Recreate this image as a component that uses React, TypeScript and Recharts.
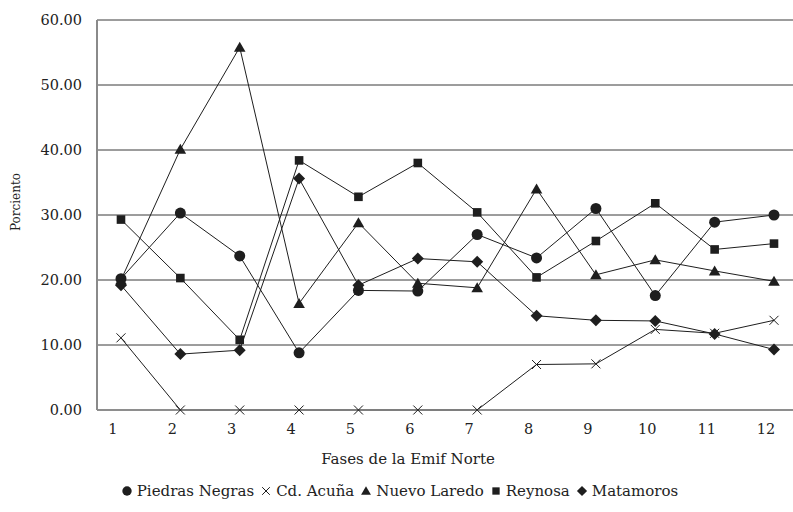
import React from 'react';
import { LineChart, Line, XAxis, YAxis, CartesianGrid } from 'recharts';

const phases = [1, 2, 3, 4, 5, 6, 7, 8, 9, 10, 11, 12];
const piedrasNegras = [20.2, 30.3, 23.7, 8.8, 18.4, 18.3, 27.0, 23.4, 31.0, 17.6, 28.9, 30.0];
const cdAcuna = [11.1, 0, 0, 0, 0, 0, 0, 7.0, 7.1, 12.4, 11.8, 13.8];
const nuevoLaredo = [20.0, 40.1, 55.8, 16.4, 28.8, 19.5, 18.8, 34.0, 20.8, 23.1, 21.4, 19.8];
const reynosa = [29.3, 20.3, 10.8, 38.4, 32.8, 38.0, 30.4, 20.4, 26.0, 31.8, 24.7, 25.6];
const matamoros = [19.2, 8.6, 9.2, 35.6, 19.2, 23.3, 22.8, 14.5, 13.8, 13.7, 11.7, 9.3];
const yTicks = [0, 10, 20, 30, 40, 50, 60];

const seriesDefs = [
  { key: 'pn', name: 'Piedras Negras', values: piedrasNegras, shape: 'circle' },
  { key: 'ca', name: 'Cd. Acuña', values: cdAcuna, shape: 'cross' },
  { key: 'nl', name: 'Nuevo Laredo', values: nuevoLaredo, shape: 'triangle' },
  { key: 're', name: 'Reynosa', values: reynosa, shape: 'square' },
  { key: 'ma', name: 'Matamoros', values: matamoros, shape: 'diamond' },
];

const data = phases.map((p, i) => {
  const row: any = { phase: p };
  seriesDefs.forEach((s) => {
    row[s.key] = s.values[i];
  });
  return row;
});

const INK = '#1e1e1e';
const FONT = '"DejaVu Serif", serif';

function Marker({ shape, cx, cy, size = 1 }: { shape: string; cx: number; cy: number; size?: number }) {
  if (cx == null || cy == null) return null;
  switch (shape) {
    case 'circle':
      return <circle cx={cx} cy={cy} r={5.5 * size} fill={INK} />;
    case 'cross': {
      const d = 4.5 * size;
      return (
        <g stroke={INK} strokeWidth={1}>
          <line x1={cx - d} y1={cy - d} x2={cx + d} y2={cy + d} />
          <line x1={cx - d} y1={cy + d} x2={cx + d} y2={cy - d} />
        </g>
      );
    }
    case 'triangle': {
      const w = 5.8 * size;
      const h = 10 * size;
      return <polygon points={`${cx},${cy - h * 0.55} ${cx + w},${cy + h * 0.45} ${cx - w},${cy + h * 0.45}`} fill={INK} />;
    }
    case 'square': {
      const s = 4.3 * size;
      return <rect x={cx - s} y={cy - s} width={2 * s} height={2 * s} fill={INK} />;
    }
    case 'diamond': {
      const d = 6 * size;
      return <polygon points={`${cx},${cy - d} ${cx + d},${cy} ${cx},${cy + d} ${cx - d},${cy}`} fill={INK} />;
    }
    default:
      return null;
  }
}

const XTick = (props: any) => {
  const { x, y, payload } = props;
  return (
    <text x={x - 8} y={y} dy="0.71em" textAnchor="middle" fontFamily={FONT} fontSize={14.5} fill="#222">
      {payload.value}
    </text>
  );
};

export default function App() {
  return (
    <div style={{ position: 'absolute', left: 0, top: 0, width: 793, height: 512, background: '#fff' }}>
      <LineChart
        width={793}
        height={512}
        data={data}
        margin={{ top: 20, right: 0, left: 0, bottom: 72 }}
      >
        <CartesianGrid vertical={false} stroke="#3a3a3a" strokeWidth={1} />
        <XAxis
          dataKey="phase"
          type="number"
          domain={[0.596, 12.32]}
          ticks={phases}
          height={30}
          tickSize={0}
          tickMargin={14}
          tickLine={false}
          axisLine={{ stroke: '#8a8a8a', strokeWidth: 1.5 }}
          tick={<XTick />}
          allowDataOverflow
        />
        <YAxis
          type="number"
          domain={[0, 60]}
          ticks={yTicks}
          width={97}
          tickSize={0}
          tickMargin={15}
          tickLine={false}
          axisLine={{ stroke: '#8a8a8a', strokeWidth: 2 }}
          tickFormatter={(v: number) => v.toFixed(2)}
          tick={{ fontFamily: FONT, fontSize: 14.5, fill: '#222' }}
        />
        {seriesDefs.map((s) => (
          <Line
            key={s.key}
            dataKey={s.key}
            name={s.name}
            stroke={INK}
            strokeWidth={1}
            isAnimationActive={false}
            dot={(p: any) => <Marker key={`${s.key}-${p.index}`} shape={s.shape} cx={p.cx} cy={p.cy} />}
            activeDot={false}
          />
        ))}
      </LineChart>
      <svg
        width={793}
        height={512}
        style={{ position: 'absolute', left: 0, top: 0, pointerEvents: 'none' }}
      >
        <text
          x={0}
          y={0}
          transform="translate(16,202) rotate(-90)"
          textAnchor="middle"
          dominantBaseline="central"
          fontFamily={FONT}
          fontSize={12}
          fill="#222"
        >
          Porciento
        </text>
        <text x={408} y={459} textAnchor="middle" dominantBaseline="central" fontFamily={FONT} fontSize={15} fill="#222">
          Fases de la Emif Norte
        </text>
      </svg>
      <div
        style={{
          position: 'absolute',
          left: 0,
          top: 482,
          width: 793,
          display: 'flex',
          justifyContent: 'center',
          alignItems: 'center',
          fontFamily: FONT,
          fontSize: 15,
          color: '#222',
          paddingLeft: 6,
          boxSizing: 'border-box',
        }}
      >
        {seriesDefs.map((s, i) => (
          <div key={s.key} style={{ display: 'flex', alignItems: 'center', marginRight: i < seriesDefs.length - 1 ? 6 : 0 }}>
            <svg width={12} height={12} style={{ marginRight: 4 }}>
              <Marker shape={s.shape} cx={6} cy={6} size={0.85} />
            </svg>
            <span>{s.name}</span>
          </div>
        ))}
      </div>
    </div>
  );
}
